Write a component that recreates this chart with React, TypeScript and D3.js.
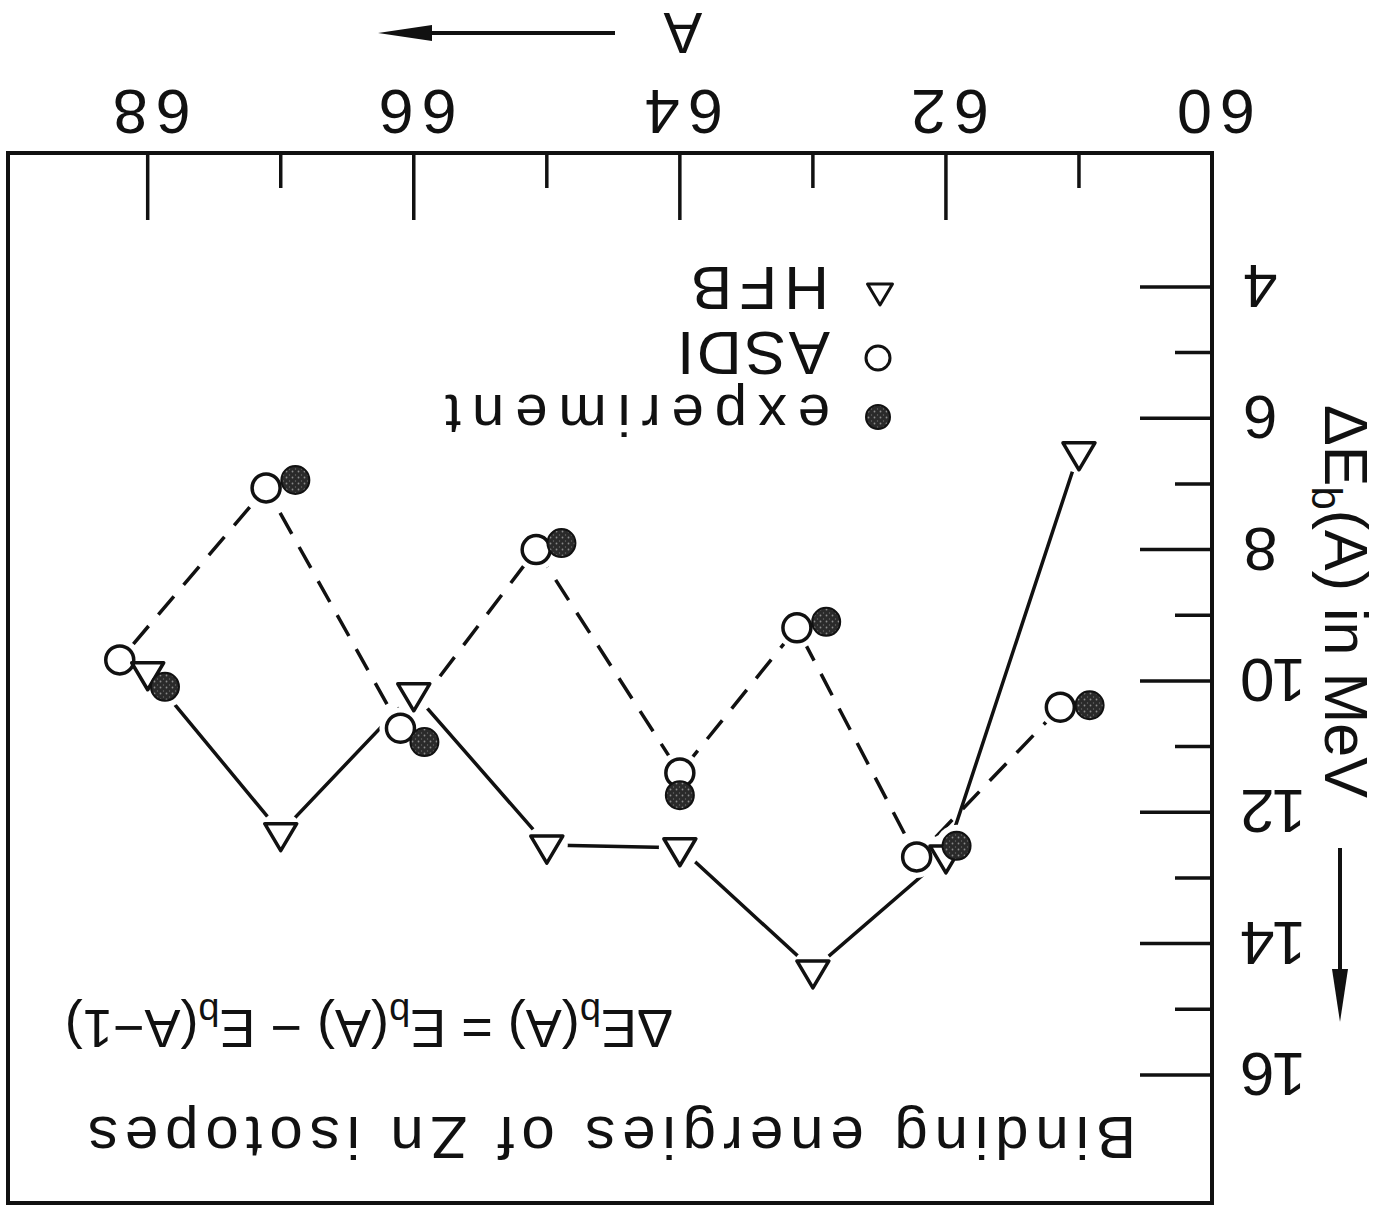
import React from 'react';
import * as d3 from 'd3';

// ---- data ----
const hfbA = [61, 62, 63, 64, 65, 66, 67, 68];
const hfbValues = [6.51, 12.65, 14.4, 12.54, 12.5, 10.18, 12.31, 9.86];
const asdiA = [61.14, 62.22, 63.12, 64.0, 65.08, 66.1, 67.11, 68.21];
const asdiValues = [10.4, 12.68, 9.19, 11.4, 8.0, 10.72, 7.06, 9.68];
const expA = [60.92, 61.92, 62.9, 64.0, 64.89, 65.92, 66.89, 67.87];
const expValues = [10.37, 12.51, 9.1, 11.74, 7.9, 10.93, 6.94, 10.09];
const xMajorTicks = [60, 62, 64, 66, 68];
const xMinorTicks = [61, 63, 65, 67];
const yMajorTicks = [4, 6, 8, 10, 12, 14, 16];
const yMinorTicks = [5, 7, 9, 11, 13, 15];
const legendLabels = ['experiment', 'ASDI', 'HFB'];

const W = 1380;
const H = 1205;
const FONT = "'Liberation Sans', Arial, sans-serif";
const INK = '#111';

type P = { a: number; v: number };
const zip = (as: number[], vs: number[]): P[] => as.map((a, i) => ({ a, v: vs[i] }));

export default function App() {
  const x = d3.scaleLinear().domain([60, 69.05]).range([168, 1372]);
  const y = d3.scaleLinear().domain([1.96, 17.95]).range([1052, 2]);

  const hfb = zip(hfbA, hfbValues);
  const asdi = zip(asdiA, asdiValues);
  const exp = zip(expA, expValues);

  const line = d3
    .line<P>()
    .x((d) => x(d.a))
    .y((d) => y(d.v));

  const tri = (cx: number, cy: number, w: number, h: number) =>
    `M${cx},${cy - (2 * h) / 3}L${cx - w / 2},${cy + h / 3}L${cx + w / 2},${cy + h / 3}Z`;

  const allPts = [...hfb, ...asdi, ...exp];

  const left = x.range()[0];
  const right = x.range()[1];
  const top = y.range()[1];
  const bottom = y.range()[0];

  return (
    <svg
      width={W}
      height={H}
      viewBox={`0 0 ${W} ${H}`}
      style={{ position: 'absolute', left: 0, top: 0, background: '#fff' }}
    >
      <defs>
        <pattern id="stipple" width="6" height="6" patternUnits="userSpaceOnUse">
          <rect width="6" height="6" fill="#2a2a2a" />
          <circle cx="1.5" cy="1.5" r="0.9" fill="#8a8a8a" />
          <circle cx="4.5" cy="4" r="0.7" fill="#6a6a6a" />
        </pattern>
      </defs>
      <rect width={W} height={H} fill="#fff" />
      <g transform={`rotate(180 ${W / 2} ${H / 2})`} fontFamily={FONT} fill={INK}>
        {/* frame */}
        <rect
          x={left}
          y={top}
          width={right - left}
          height={bottom - top}
          fill="none"
          stroke={INK}
          strokeWidth={4}
        />
        {/* x ticks */}
        {xMajorTicks.map((t) => (
          <line key={'xM' + t} x1={x(t)} x2={x(t)} y1={bottom} y2={bottom - 67} stroke={INK} strokeWidth={3.5} />
        ))}
        {xMinorTicks.map((t) => (
          <line key={'xm' + t} x1={x(t)} x2={x(t)} y1={bottom} y2={bottom - 35} stroke={INK} strokeWidth={3.5} />
        ))}
        {xMajorTicks.map((t) => (
          <text
            key={'xl' + t}
            x={x(t)}
            y={bottom + 63}
            fontSize={63}
            textAnchor="middle"
            letterSpacing={8}
          >
            {t}
          </text>
        ))}
        {/* y ticks */}
        {yMajorTicks.map((t) => (
          <line key={'yM' + t} x1={left} x2={left + 72} y1={y(t)} y2={y(t)} stroke={INK} strokeWidth={3.5} />
        ))}
        {yMinorTicks.map((t) => (
          <line key={'ym' + t} x1={left} x2={left + 37} y1={y(t)} y2={y(t)} stroke={INK} strokeWidth={3.5} />
        ))}
        {yMajorTicks.map((t) => (
          <text
            key={'yl' + t}
            x={left - 31}
            y={y(t) + 22}
            fontSize={62}
            textAnchor="end"
            letterSpacing={t >= 10 ? -3 : 0}
          >
            {t}
          </text>
        ))}
        {/* axis titles */}
        <text x={697} y={1192} fontSize={58} textAnchor="middle">
          A
        </text>
        <line x1={765} x2={960} y1={1172} y2={1172} stroke={INK} strokeWidth={4} />
        <path d="M1002,1172L948,1164L948,1180Z" fill={INK} />
        <text transform="translate(55,800) rotate(-90)" fontSize={61}>
          ΔE
          <tspan dy={13} fontSize={42}>
            b
          </tspan>
          <tspan dy={-13}>(A) in MeV</tspan>
        </text>
        <line x1={40} x2={40} y1={357} y2={225} stroke={INK} strokeWidth={4} />
        <path d="M40,183L32,236L48,236Z" fill={INK} />

        {/* title and formula */}
        <text x={244} y={88} fontSize={60} textLength={1048} lengthAdjust="spacing">
          Binding energies of Zn isotopes
        </text>
        <text x={707} y={195} fontSize={54}>
          ΔE
          <tspan dy={11} fontSize={38}>b</tspan>
          <tspan dy={-11}>(A) = E</tspan>
          <tspan dy={11} fontSize={38}>b</tspan>
          <tspan dy={-11}>(A) − E</tspan>
          <tspan dy={11} fontSize={38}>b</tspan>
          <tspan dy={-11}>(A−1)</tspan>
        </text>

        {/* series lines */}
        <path d={line(hfb) ?? ''} fill="none" stroke={INK} strokeWidth={3.5} />
        <path
          d={line(asdi) ?? ''}
          fill="none"
          stroke={INK}
          strokeWidth={3.5}
          strokeDasharray="24 15"
        />
        {/* white halos to leave gaps around markers */}
        {allPts.map((p, i) => (
          <circle key={'h' + i} cx={x(p.a)} cy={y(p.v)} r={21} fill="#fff" />
        ))}
        {/* markers */}
        {hfb.map((p, i) => (
          <path
            key={'t' + i}
            d={tri(x(p.a), y(p.v), 32, 27)}
            fill="none"
            stroke={INK}
            strokeWidth={3.5}
            strokeLinejoin="round"
          />
        ))}
        {asdi.map((p, i) => (
          <circle key={'c' + i} cx={x(p.a)} cy={y(p.v)} r={14} fill="none" stroke={INK} strokeWidth={3.5} />
        ))}
        {exp.map((p, i) => (
          <circle key={'e' + i} cx={x(p.a)} cy={y(p.v)} r={14} fill="url(#stipple)" stroke={INK} strokeWidth={2} />
        ))}

        {/* legend */}
        <circle cx={502} cy={788} r={12} fill="url(#stipple)" stroke={INK} strokeWidth={2} />
        <circle cx={502} cy={847} r={12} fill="none" stroke={INK} strokeWidth={3} />
        <path d={tri(500, 914, 25, 21)} fill="none" stroke={INK} strokeWidth={3} strokeLinejoin="round" />
        <text x={550} y={810} fontSize={58} textLength={385} lengthAdjust="spacing">
          {legendLabels[0]}
        </text>
        <text x={550} y={873} fontSize={62} textLength={153} lengthAdjust="spacing">
          {legendLabels[1]}
        </text>
        <text x={551} y={938} fontSize={62} textLength={138} lengthAdjust="spacing">
          {legendLabels[2]}
        </text>
      </g>
    </svg>
  );
}
